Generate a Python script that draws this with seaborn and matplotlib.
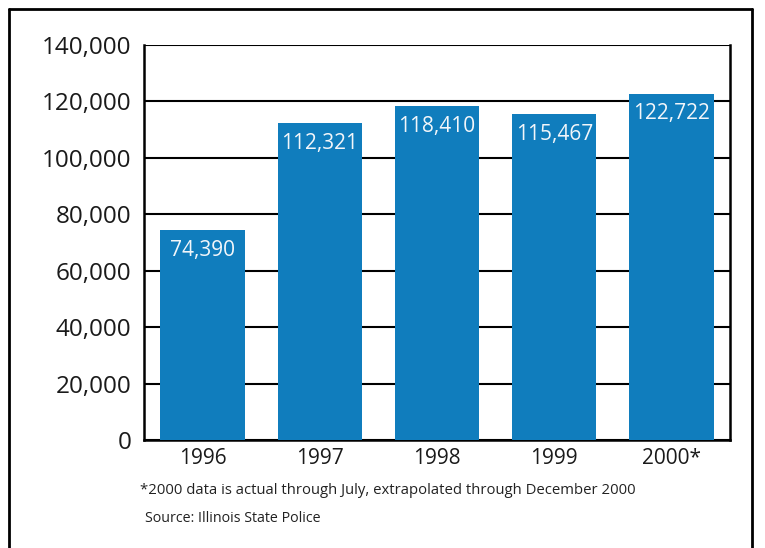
import matplotlib
matplotlib.use("Agg")
import matplotlib.pyplot as plt
from matplotlib.lines import Line2D
from matplotlib.ticker import FuncFormatter, FixedLocator
import pandas as pd
import seaborn as sns

years = ["1996", "1997", "1998", "1999", "2000*"]
counts = [74390, 112321, 118410, 115467, 122722]
y_ticks = [0, 20000, 40000, 60000, 80000, 100000, 120000, 140000]

bar_blue = "#107dbd"
font = ["Open Sans", "DejaVu Sans"]

sns.set_style("white")
plt.rcParams["font.family"] = font

df = pd.DataFrame({"year": years, "count": counts})

fig = plt.figure(figsize=(7.65, 5.48), dpi=100)
ax = fig.add_axes([144 / 765, 1 - 440 / 548, (730 - 144) / 765, (440 - 45) / 548])

sns.barplot(data=df, x="year", y="count", ax=ax, color=bar_blue, width=0.72,
            saturation=1, linewidth=0, zorder=3)

ax.set_xlim(-0.5, 4.5)
ax.set_ylim(0, 140000)
ax.set_yticks(y_ticks)
ax.yaxis.set_major_formatter(FuncFormatter(lambda v, p: f"{int(v):,}"))
ax.grid(axis="y", color="black", linewidth=1.5, zorder=0)
ax.set_axisbelow(True)
ax.set_xlabel("")
ax.set_ylabel("")

for side in ["left", "bottom", "right"]:
    ax.spines[side].set_visible(True)
    ax.spines[side].set_color("black")
    ax.spines[side].set_linewidth(1.8)
ax.spines["top"].set_visible(False)

ax.tick_params(axis="y", length=0, pad=9, labelsize=17.5, labelcolor="#1a1a1a")
ax.tick_params(axis="x", which="major", length=0, pad=6, labelsize=15, labelcolor="#1a1a1a")
ax.xaxis.set_minor_locator(FixedLocator([0.5, 1.5, 2.5, 3.5]))
ax.tick_params(axis="x", which="minor", direction="in", length=8, width=1.8, color="black")

for i, v in enumerate(counts):
    ax.annotate(f"{v:,}", (i, v), xytext=(0, -7), textcoords="offset points",
                ha="center", va="top", color="#f2f6fa", fontsize=15, zorder=5)

fig.text(140 / 765, 1 - 490 / 548, "*2000 data is actual through July, extrapolated through December 2000",
         fontsize=10.7, va="center", ha="left", color="#222222")
fig.text(145 / 765, 1 - 519 / 548, "Source: Illinois State Police",
         fontsize=10.3, va="center", ha="left", color="#222222")

# outer frame, bottom edge runs off the page
lw = 2
x0, x1 = 9 / 765, 752 / 765
y0 = 1 - 9 / 548
fig.add_artist(Line2D([x0, x0], [0, y0], color="black", linewidth=lw))
fig.add_artist(Line2D([x0, x1], [y0, y0], color="black", linewidth=lw))
fig.add_artist(Line2D([x1, x1], [0, y0], color="black", linewidth=lw))

fig.savefig("out.png", dpi=100)
